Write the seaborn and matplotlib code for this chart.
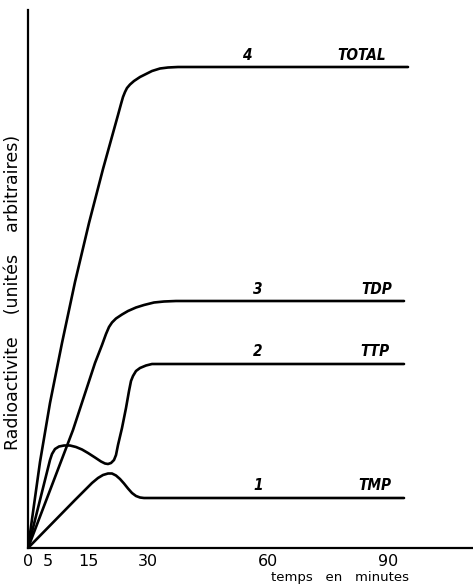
import matplotlib
matplotlib.use("Agg")
import numpy as np
import pandas as pd
import matplotlib.pyplot as plt
import seaborn as sns

# ---- data (minutes, arbitrary units) ----
tmp_t = [0, 11.75, 16, 17.5, 18.75, 20, 21, 22, 23, 24, 25, 26, 27, 28, 29, 94]
tmp_v = [0, 48, 65, 70, 73, 74.5, 74.5, 72.5, 69, 64.5, 59.5, 55, 52, 50.5, 50, 50]
ttp_t = [0, 5.5, 6, 6.75, 7.75, 9, 10.5, 12, 13.5, 15, 16.75, 18.25, 19.25, 20, 20.75,
         21.5, 22, 22.5, 23.5, 24.5, 25.25, 25.75, 26.25, 27, 28, 29.5, 31, 33, 94]
ttp_v = [0, 88, 94, 99, 101.5, 102.5, 102.5, 101, 98.5, 95, 90.5, 86.5, 84.5, 84, 85,
         88, 93, 103, 120, 140, 157, 167, 172, 177, 180, 182.5, 184, 184, 184]
tdp_t = [0, 11.25, 16.75, 18.5, 19.5, 20.25, 21, 22, 23.5, 25, 27, 29, 31.5, 34, 37, 94]
tdp_v = [0, 118, 185, 203, 214, 221, 225.5, 229.5, 233.5, 237, 240.5, 243, 245.5, 246.5, 247, 247]
tot_t = [0, 3, 5.5, 8.5, 11.75, 15.25, 18.75, 22.5, 23.25, 23.75, 24.25, 24.75, 25.5, 26.5,
         28, 29.5, 31, 33, 35, 37.5, 95]
tot_v = [0, 86, 145, 205, 266, 325, 379, 433, 444, 451, 456, 460, 463.5, 467,
         471, 474, 477, 479.5, 480.5, 481, 481]

curve_names = ["TMP", "TTP", "TDP", "TOTAL"]
curve_numbers = ["1", "2", "3", "4"]
x_ticks = [0, 5, 15, 30, 60, 90]
x_label = "temps   en   minutes"
y_label = "Radioactivite    (unités    arbitraires)"

series_t = [tmp_t, ttp_t, tdp_t, tot_t]
series_v = [tmp_v, ttp_v, tdp_v, tot_v]
df = pd.concat(
    [pd.DataFrame({"minutes": t, "radio": v, "curve": n})
     for t, v, n in zip(series_t, series_v, curve_names)],
    ignore_index=True)

sns.set_style("white")
plt.rcParams["font.family"] = ["DejaVu Sans"]
plt.rcParams["text.color"] = "black"
plt.rcParams["xtick.color"] = "black"

W, H = 473, 586
fig = plt.figure(figsize=(W / 100, H / 100), dpi=100)
ax = fig.add_axes([28 / W, 38 / H, (W - 28) / W, 538 / H])

sns.lineplot(data=df, x="minutes", y="radio", hue="curve", units="curve",
             estimator=None, sort=False, palette=["black"] * 4,
             linewidth=1.9, legend=False, ax=ax,
             solid_joinstyle="round", solid_capstyle="round")

ax.set_xlim(0, 111.25)
ax.set_ylim(0, 538)
for s in ["top", "right"]:
    ax.spines[s].set_visible(False)
for s in ["left", "bottom"]:
    ax.spines[s].set_linewidth(1.6)
    ax.spines[s].set_color("black")
ax.set_xticks(x_ticks)
ax.set_xticklabels([str(x) for x in x_ticks], fontsize=11.5)
ax.tick_params(axis="x", direction="in", length=5, width=1.2, pad=4,
               colors="black", labelcolor="black")
ax.set_yticks([])
ax.set_xlabel("")
ax.set_ylabel("")

# curve labels
num_x = [57.5, 57.5, 57.5, 54.75]
name_x = [86.75, 86.75, 87.25, 83.5]
for i, (n, num) in enumerate(zip(curve_names, curve_numbers)):
    plateau = series_v[i][-1]
    for xx, s in ((num_x[i], num), (name_x[i], n)):
        ax.text(xx, plateau + 12, s, ha="center", va="center", color="black",
                size=11, style="italic", weight="bold", stretch="condensed")

fig.text(340 / W, 1 - 578 / H, x_label, ha="center", va="center",
         fontsize=9.5, color="black")
fig.text(13 / W, 1 - 292 / H, y_label, ha="center", va="center",
         rotation=90, fontsize=12.5, color="black")

fig.savefig("out.png", dpi=100)
